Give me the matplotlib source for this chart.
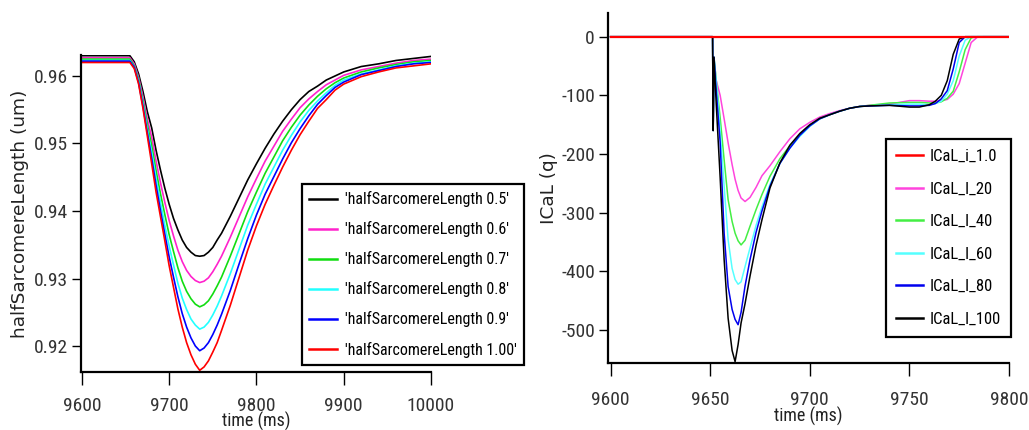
import matplotlib
matplotlib.use("Agg")
import matplotlib.pyplot as plt
from matplotlib import font_manager

plt.rcParams['axes.unicode_minus'] = False

# pick a narrow face if one is installed, else plain Liberation Sans a bit smaller
names = {f.name for f in font_manager.fontManager.ttflist}
NARROW = None
for cand in ['Liberation Sans Narrow', 'Roboto Condensed', 'Open Sans Condensed']:
    if cand in names:
        NARROW = dict(family=[cand, 'DejaVu Sans'])
        scale = 1.0
        break
if NARROW is None:
    NARROW = dict(family=['Liberation Sans', 'DejaVu Sans'])
    scale = 0.82
WIDE = ['DejaVu Sans']

# ---- left panel: half sarcomere length (um) vs time (ms)
t_len = [9600, 9655, 9660, 9665, 9670, 9675, 9680, 9685, 9690, 9695, 9700, 9705, 9710,
         9715, 9720, 9725, 9730, 9735, 9740, 9745, 9750, 9755, 9760, 9770, 9780, 9790,
         9800, 9810, 9820, 9830, 9840, 9850, 9860, 9870, 9880, 9890, 9900, 9920, 9940,
         9960, 9980, 10000]
len_05 = [0.9630, 0.9630, 0.9621, 0.9603, 0.9577, 0.9547, 0.9523, 0.9490, 0.9461, 0.9434,
          0.9410, 0.9389, 0.9372, 0.9357, 0.9346, 0.9339, 0.9334, 0.9333, 0.9334, 0.9339,
          0.9346, 0.9357, 0.9367, 0.9392, 0.9419, 0.9446, 0.9470, 0.9493, 0.9514, 0.9533,
          0.9550, 0.9565, 0.9577, 0.9585, 0.9594, 0.9600, 0.9606, 0.9614, 0.9618, 0.9623,
          0.9626, 0.9629]
len_06 = [0.9627, 0.9627, 0.9618, 0.9598, 0.9569, 0.9536, 0.9509, 0.9474, 0.9442, 0.9413,
          0.9386, 0.9363, 0.9342, 0.9325, 0.9312, 0.9303, 0.9297, 0.9294, 0.9296, 0.9301,
          0.9310, 0.9321, 0.9333, 0.9361, 0.9391, 0.9421, 0.9448, 0.9474, 0.9496, 0.9518,
          0.9536, 0.9553, 0.9566, 0.9577, 0.9587, 0.9594, 0.9601, 0.9609, 0.9614, 0.9619,
          0.9623, 0.9625]
len_07 = [0.9625, 0.9625, 0.9615, 0.9595, 0.9563, 0.9528, 0.9497, 0.9460, 0.9426, 0.9395,
          0.9365, 0.9340, 0.9316, 0.9296, 0.9281, 0.9270, 0.9262, 0.9258, 0.9261, 0.9267,
          0.9277, 0.9289, 0.9302, 0.9333, 0.9366, 0.9399, 0.9428, 0.9456, 0.9480, 0.9504,
          0.9524, 0.9542, 0.9557, 0.9570, 0.9581, 0.9590, 0.9597, 0.9606, 0.9612, 0.9617,
          0.9621, 0.9623]
len_08 = [0.9623, 0.9623, 0.9613, 0.9592, 0.9559, 0.9521, 0.9487, 0.9448, 0.9413, 0.9379,
          0.9348, 0.9320, 0.9293, 0.9271, 0.9254, 0.9240, 0.9231, 0.9225, 0.9228, 0.9235,
          0.9246, 0.9259, 0.9274, 0.9307, 0.9343, 0.9379, 0.9410, 0.9440, 0.9465, 0.9490,
          0.9512, 0.9532, 0.9549, 0.9563, 0.9575, 0.9586, 0.9594, 0.9603, 0.9609, 0.9615,
          0.9619, 0.9621]
len_09 = [0.9622, 0.9622, 0.9613, 0.9590, 0.9555, 0.9516, 0.9478, 0.9438, 0.9401, 0.9366,
          0.9332, 0.9302, 0.9273, 0.9248, 0.9228, 0.9212, 0.9200, 0.9193, 0.9197, 0.9205,
          0.9217, 0.9231, 0.9247, 0.9282, 0.9321, 0.9359, 0.9394, 0.9425, 0.9451, 0.9477,
          0.9501, 0.9522, 0.9541, 0.9558, 0.9571, 0.9583, 0.9591, 0.9602, 0.9608, 0.9614,
          0.9618, 0.9620]
len_10 = [0.9620, 0.9620, 0.9611, 0.9588, 0.9552, 0.9511, 0.9470, 0.9428, 0.9392, 0.9356,
          0.9319, 0.9287, 0.9255, 0.9228, 0.9205, 0.9187, 0.9173, 0.9164, 0.9169, 0.9178,
          0.9191, 0.9205, 0.9223, 0.9260, 0.9301, 0.9342, 0.9378, 0.9410, 0.9438, 0.9465,
          0.9490, 0.9513, 0.9533, 0.9552, 0.9565, 0.9579, 0.9588, 0.9599, 0.9606, 0.9612,
          0.9615, 0.9618]
len_labels = ["'halfSarcomereLength 0.5'", "'halfSarcomereLength 0.6'",
              "'halfSarcomereLength 0.7'", "'halfSarcomereLength 0.8'",
              "'halfSarcomereLength 0.9'", "'halfSarcomereLength 1.00'"]

# ---- right panel: ICaL (q) vs time (ms)
t_cal = [9600, 9651.2, 9651.5, 9651.9, 9653, 9655, 9657, 9659, 9661, 9662.5, 9664, 9665.5,
         9667.5, 9670, 9673, 9676, 9680, 9685, 9690, 9695, 9700, 9705, 9710, 9715, 9720,
         9725, 9730, 9740, 9750, 9755, 9760, 9763, 9766, 9769, 9772, 9775, 9778, 9781,
         9784, 9787, 9800]
cal_i_10 = [0] * len(t_cal)
cal_20 = [0, 0, -160, -35, -74, -100, -140, -181, -218, -243, -262, -275, -281, -274, -257,
          -237, -220, -196, -174, -157, -146, -137, -131, -126, -122, -119, -117, -115, -109,
          -109, -110, -110, -109, -107, -98, -80, -45, -10, -1, 0, 0]
cal_40 = [0, 0, -160, -35, -74, -138, -210, -278, -315, -335, -348, -355, -347, -323, -295,
          -269, -238, -208, -186, -168, -152, -140, -133, -127, -122, -119, -117, -113, -112,
          -112, -113, -113, -111, -105, -93, -60, -22, -2, 0, 0, 0]
cal_60 = [0, 0, -160, -35, -74, -160, -255, -346, -395, -414, -422, -418, -392, -360, -322,
          -290, -252, -216, -190, -170, -153, -140, -133, -127, -122, -119, -118, -116, -115,
          -115, -116, -114, -110, -98, -75, -33, -6, 0, 0, 0, 0]
cal_80 = [0, 0, -160, -35, -90, -180, -335, -426, -465, -482, -491, -470, -425, -380, -334,
          -297, -255, -216, -190, -168, -152, -140, -133, -127, -122, -119, -118, -117, -118,
          -118, -117, -114, -106, -92, -55, -10, 0, 0, 0, 0, 0]
cal_100 = [0, 0, -160, -35, -113, -240, -380, -480, -535, -554, -525, -488, -455, -408, -356,
           -312, -258, -215, -185, -165, -150, -139, -133, -127, -122, -119, -118, -117, -120,
           -120, -116, -110, -100, -75, -30, -4, 0, 0, 0, 0, 0]
cal_labels = ['ICaL_i_1.0', 'ICaL_l_20', 'ICaL_l_40', 'ICaL_l_60', 'ICaL_l_80', 'ICaL_l_100']

colors = ['#000000', '#ff22cc', '#11dd11', '#22ffff', '#0000ff', '#ff0000']
cal_colors = ['#ff0000', '#ff44dd', '#44ee44', '#55ffff', '#0000ee', '#000000']

W, H = 1029, 430
fig = plt.figure(figsize=(W / 100, H / 100), dpi=100)
ax1 = fig.add_axes([81 / W, 1 - 372 / H, 350 / W, 317 / H])
ax2 = fig.add_axes([608 / W, 1 - 363 / H, 401 / W, 350 / H])

TICK_SIZE = 14 * scale
XLAB_SIZE = 13 * scale


def style_axis(ax, xpad):
    for side in ('top', 'right'):
        ax.spines[side].set_visible(False)
    for side in ('left', 'bottom'):
        ax.spines[side].set_linewidth(1.6)
    ax.tick_params(axis='x', direction='out', length=9.5, width=1.0, pad=xpad,
                   labelsize=TICK_SIZE, labelcolor='#333333')
    ax.tick_params(axis='y', direction='out', length=6.5, width=1.0, pad=3,
                   labelsize=TICK_SIZE, labelcolor='#333333')
    for lab in ax.get_xticklabels() + ax.get_yticklabels():
        lab.set(**NARROW)


def style_legend(leg):
    leg.get_frame().set_linewidth(1.6)
    for line in leg.get_lines():
        line.set_linewidth(1.8)


# left
series_len = [len_05, len_06, len_07, len_08, len_09, len_10]
for vals, c, lab in zip(series_len, colors, len_labels):
    ax1.plot(t_len, vals, color=c, lw=1.2, label=lab)
ax1.set_xlim(9599, 10000)
ax1.set_ylim(0.91615, 0.96311)
ax1.set_xticks([9600, 9700, 9800, 9900, 10000])
ax1.set_yticks([0.92, 0.93, 0.94, 0.95, 0.96])
ax1.set_yticklabels(['0.92', '0.93', '0.94', '0.95', '0.96'])
style_axis(ax1, 8.4)
ax1.set_xlabel('time (ms)', fontsize=XLAB_SIZE, labelpad=-2, color='#222222', **NARROW)
ax1.set_ylabel('halfSarcomereLength (um)', family=WIDE, fontsize=13.3, color='#222222')
ax1.yaxis.set_label_coords(-0.148, 0.5)
leg1 = ax1.legend(loc='upper left', bbox_to_anchor=(302 / W, 1 - 184 / H),
                  bbox_transform=fig.transFigure, prop=dict(size=11.5 * scale, **NARROW),
                  frameon=True, fancybox=False, edgecolor='black', framealpha=1,
                  borderpad=0.45, labelspacing=0.88, handlelength=1.75,
                  handletextpad=0.5, borderaxespad=0)
style_legend(leg1)

# right
series_cal = [cal_i_10, cal_20, cal_40, cal_60, cal_80, cal_100]
handles = {}
for vals, c, lab in list(zip(series_cal, cal_colors, cal_labels))[1:]:
    handles[lab], = ax2.plot(t_cal, vals, color=c, lw=1.1, label=lab)
handles[cal_labels[0]], = ax2.plot([t_cal[0], t_cal[-1]], [cal_i_10[0], cal_i_10[-1]],
                                   color=cal_colors[0], lw=1.6, label=cal_labels[0], zorder=5)
ax2.set_xlim(9598.7, 9800)
ax2.set_ylim(-556.3, 40.4)
ax2.set_xticks([9600, 9650, 9700, 9750, 9800])
ax2.set_yticks([0, -100, -200, -300, -400, -500])
style_axis(ax2, 11)
ax2.set_xlabel('time (ms)', fontsize=XLAB_SIZE, labelpad=-2, color='#222222', **NARROW)
ax2.set_ylabel('ICaL (q)', family=WIDE, fontsize=13.3, color='#222222')
ax2.yaxis.set_label_coords(-0.125, 0.5)
leg2 = ax2.legend([handles[l] for l in cal_labels], cal_labels, loc='upper left',
                  bbox_to_anchor=(886 / W, 1 - 139 / H), bbox_transform=fig.transFigure,
                  prop=dict(size=12.0 * scale, **NARROW), frameon=True, fancybox=False,
                  edgecolor='black', framealpha=1, borderpad=0.6, labelspacing=1.05,
                  handlelength=1.6, handletextpad=0.4, borderaxespad=0)
style_legend(leg2)

fig.savefig('out.png', dpi=100)
